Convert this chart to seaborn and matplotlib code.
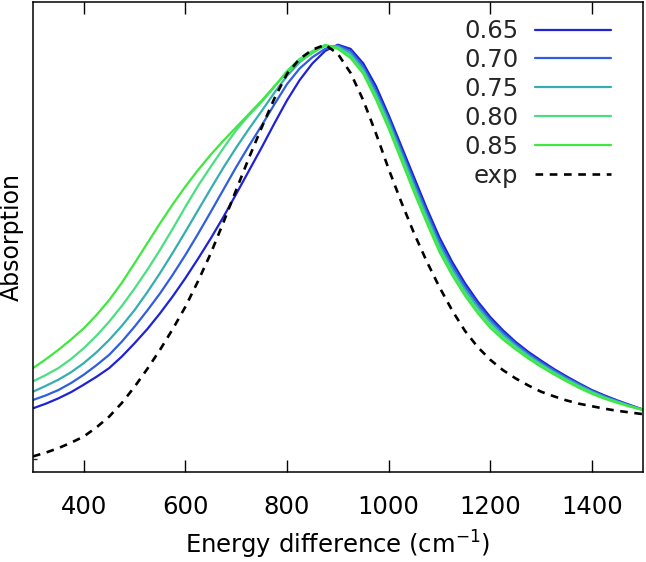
import numpy as np
import pandas as pd
import matplotlib
matplotlib.use("Agg")
import matplotlib.pyplot as plt
import seaborn as sns

# x positions (cm^-1)
energy = [300, 325, 350, 375, 400, 425, 450, 475, 500, 525, 550, 575, 600, 625, 650, 675,
          700, 725, 750, 775, 800, 825, 850, 875, 900, 925, 950, 975, 1000, 1025, 1050,
          1075, 1100, 1125, 1150, 1175, 1200, 1225, 1250, 1275, 1300, 1325, 1350, 1375,
          1400, 1425, 1450, 1475, 1500]

s065 = [0.123, 0.134, 0.147, 0.162, 0.180, 0.199, 0.220, 0.248, 0.280, 0.314, 0.352, 0.393,
        0.437, 0.484, 0.533, 0.585, 0.640, 0.696, 0.752, 0.810, 0.866, 0.915, 0.955, 0.985,
        1.000, 0.990, 0.955, 0.900, 0.830, 0.755, 0.680, 0.605, 0.535, 0.476, 0.425, 0.381,
        0.343, 0.311, 0.283, 0.259, 0.238, 0.218, 0.200, 0.183, 0.167, 0.154, 0.142, 0.131, 0.120]
s070 = [0.143, 0.154, 0.167, 0.184, 0.204, 0.227, 0.252, 0.284, 0.320, 0.359, 0.400, 0.445,
        0.493, 0.544, 0.597, 0.651, 0.705, 0.756, 0.805, 0.856, 0.905, 0.943, 0.970, 0.990,
        0.998, 0.985, 0.947, 0.890, 0.822, 0.746, 0.670, 0.596, 0.525, 0.467, 0.417, 0.374,
        0.337, 0.306, 0.279, 0.255, 0.234, 0.215, 0.197, 0.181, 0.165, 0.152, 0.141, 0.130, 0.120]
s075 = [0.163, 0.177, 0.192, 0.210, 0.232, 0.258, 0.288, 0.322, 0.360, 0.403, 0.449, 0.498,
        0.549, 0.601, 0.653, 0.704, 0.752, 0.797, 0.840, 0.884, 0.925, 0.958, 0.982, 0.997,
        0.996, 0.979, 0.941, 0.882, 0.814, 0.738, 0.661, 0.587, 0.516, 0.459, 0.409, 0.367,
        0.331, 0.300, 0.274, 0.251, 0.230, 0.211, 0.194, 0.178, 0.163, 0.150, 0.139, 0.129, 0.120]
s080 = [0.188, 0.203, 0.220, 0.242, 0.268, 0.298, 0.332, 0.370, 0.412, 0.457, 0.505, 0.556,
        0.609, 0.660, 0.706, 0.751, 0.794, 0.830, 0.862, 0.898, 0.937, 0.966, 0.985, 0.998,
        0.993, 0.973, 0.935, 0.875, 0.806, 0.729, 0.652, 0.578, 0.508, 0.451, 0.402, 0.360,
        0.324, 0.295, 0.270, 0.247, 0.227, 0.208, 0.191, 0.175, 0.161, 0.148, 0.138, 0.128, 0.119]
s085 = [0.220, 0.241, 0.264, 0.289, 0.316, 0.348, 0.384, 0.426, 0.473, 0.521, 0.569, 0.615,
        0.658, 0.698, 0.735, 0.769, 0.801, 0.833, 0.865, 0.900, 0.934, 0.961, 0.980, 1.000,
        0.990, 0.968, 0.930, 0.868, 0.798, 0.721, 0.644, 0.570, 0.500, 0.444, 0.395, 0.353,
        0.317, 0.289, 0.265, 0.243, 0.223, 0.205, 0.188, 0.172, 0.158, 0.146, 0.136, 0.127, 0.119]
s_exp = [0.007, 0.016, 0.027, 0.040, 0.055, 0.077, 0.103, 0.136, 0.175, 0.218, 0.264, 0.314,
         0.368, 0.430, 0.497, 0.572, 0.650, 0.727, 0.800, 0.870, 0.930, 0.966, 0.988, 1.000,
         0.978, 0.932, 0.866, 0.786, 0.700, 0.620, 0.545, 0.477, 0.415, 0.359, 0.310, 0.271,
         0.240, 0.215, 0.195, 0.178, 0.163, 0.152, 0.142, 0.134, 0.128, 0.122, 0.117, 0.113, 0.109]

labels = ["0.65", "0.70", "0.75", "0.80", "0.85"]
series = [s065, s070, s075, s080, s085]
colors = ["#1f22d6", "#2f5fe0", "#36adb0", "#4ae082", "#3fe83f"]

sns.set_style("white")
plt.rcParams["font.family"] = ["DejaVu Sans"]

FS = 17.5
fig = plt.figure(figsize=(6.46, 5.62), dpi=100)
ax = fig.add_axes([0.051, 0.1606, 0.944, 0.8358])

for lab, ys, col in zip(labels, series, colors):
    sns.lineplot(x=energy, y=ys, color=col, linewidth=1.6, label=lab, ax=ax)
sns.lineplot(x=energy, y=s_exp, color="black", linewidth=1.9, label="exp", ax=ax)
ax.lines[-1].set_dashes([2.9, 2.5])

ax.set_xlim(300, 1500)
ax.set_ylim(-0.03, 1.103)
ax.set_xticks([400, 600, 800, 1000, 1200, 1400])
ax.set_yticks([0])
ax.set_yticklabels([])
ax.tick_params(axis="x", direction="in", length=8.5, width=1.0, top=True, bottom=True,
               labelsize=FS, pad=17, color="black", labelcolor="black")
ax.tick_params(axis="y", direction="in", length=3, width=1.0, left=True, labelsize=FS)
for sp in ax.spines.values():
    sp.set_visible(True)
    sp.set_color("black")
    sp.set_linewidth(1.1)

ax.set_xlabel("Energy difference (cm$^{-1}$)", fontsize=FS, labelpad=7, color="black")
ax.set_ylabel("Absorption", fontsize=17, color="black")
ax.yaxis.set_label_coords(-0.0148, 0.5)

leg = ax.legend(loc="upper right", bbox_to_anchor=(0.9475, 0.9638), frameon=False,
                markerfirst=False, fontsize=FS, handlelength=3.1, handletextpad=0.7,
                labelspacing=0.204, borderpad=0, borderaxespad=0)

fig.savefig("out.png", dpi=100)
